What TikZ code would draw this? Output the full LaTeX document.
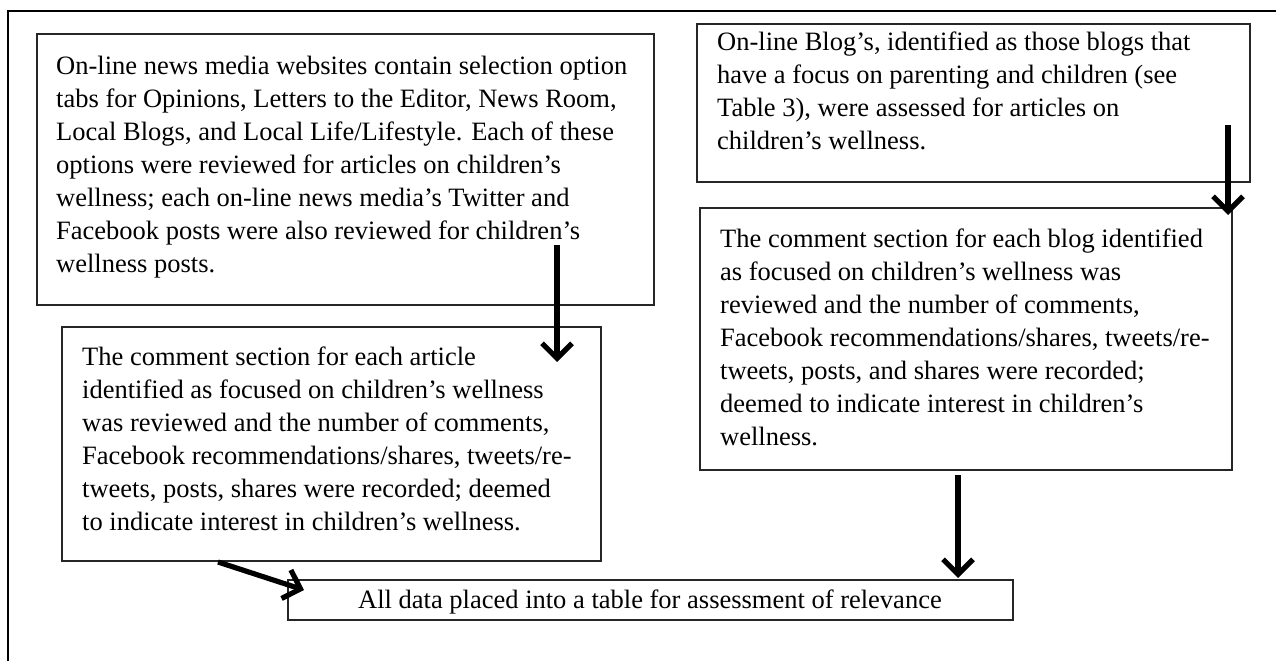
\documentclass[tikz,border=0pt]{standalone}
\usepackage{fontspec}
\setmainfont{Liberation Serif}
\usetikzlibrary{arrows.meta}
\begin{document}
\begin{tikzpicture}[x=1pt,y=-1pt,
  box/.style={draw=black!85, line width=1.3pt, anchor=north west, inner sep=0pt, outer sep=0pt},
  txt/.style={anchor=north west, inner sep=0pt, align=left, font=\fontsize{26.5}{33}\selectfont},
  bigarrow/.style={line width=5.2pt, -{Straight Barb[length=15pt,width=30pt]}}]
\useasboundingbox (0,0) rectangle (1276,661);
% outer frame (top and left only)
\draw[line width=2pt] (8,661) -- (8,11) -- (1276,11);
% boxes
\node[box, minimum width=617pt, minimum height=271pt] (b1) at (37,34) {};
\node[box, minimum width=539pt, minimum height=234pt] (b2) at (62,327) {};
\node[box, minimum width=553pt, minimum height=158pt] (b3) at (697,24) {};
\node[box, minimum width=532pt, minimum height=262pt] (b4) at (700,208) {};
\node[box, minimum width=725pt, minimum height=40pt] (b5) at (288,580) {};
% texts
\node[txt] (t1) at (56,56) {On-line news media websites contain selection option\\
tabs for Opinions, Letters to the Editor, News Room,\\
Local Blogs, and Local Life/Lifestyle. Each of these\\
options were reviewed for articles on children’s\\
wellness; each on-line news media’s Twitter and\\
Facebook posts were also reviewed for children’s\\
wellness posts.};
\node[txt] (t2) at (82,347) {The comment section for each article\\
identified as focused on children’s wellness\\
was reviewed and the number of comments,\\
Facebook recommendations/shares, tweets/re-\\
tweets, posts, shares were recorded; deemed\\
to indicate interest in children’s wellness.};
\node[txt] (t3) at (717,32) {On-line Blog’s, identified as those blogs that\\
have a focus on parenting and children (see\\
Table 3), were assessed for articles on\\
children’s wellness.};
\node[txt] (t4) at (720,229) {The comment section for each blog identified\\
as focused on children’s wellness was\\
reviewed and the number of comments,\\
Facebook recommendations/shares, tweets/re-\\
tweets, posts, and shares were recorded;\\
deemed to indicate interest in children’s\\
wellness.};
\node[txt] (t5) at (358,590) {All data placed into a table for assessment of relevance};
% arrows
\coordinate (a1s) at (557,245); \coordinate (a1e) at (557,362);
\coordinate (a2s) at (1228,125); \coordinate (a2e) at (1228,215);
\coordinate (a3s) at (958,475); \coordinate (a3e) at (958,578);
\coordinate (a4s) at (218,562); \coordinate (a4e) at (304,590);
\draw[bigarrow] (a1s) -- (a1e);
\draw[bigarrow] (a2s) -- (a2e);
\draw[bigarrow] (a3s) -- (a3e);
\draw[bigarrow] (a4s) -- (a4e);
\end{tikzpicture}
\end{document}
